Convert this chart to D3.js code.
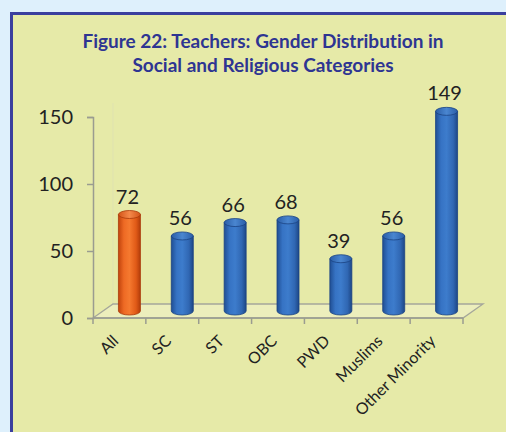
<!DOCTYPE html>
<html><head><meta charset="utf-8">
<script src="https://cdn.jsdelivr.net/npm/d3@7"></script>
<style>body{margin:0;background:#def0fc;}svg{display:block;}text{font-variant-ligatures:none;font-feature-settings:"liga" 0;}</style>
</head><body>
<svg id="c" width="506" height="432"></svg>
<script>
const categories = ["All","SC","ST","OBC","PWD","Muslims","Other Minority"];
const values = [72,56,66,68,39,56,149];
const yTicks = [0,50,100,150];
const titleLines = ["Figure 22: Teachers: Gender Distribution in","Social and Religious Categories"];

(function(){
const svg = d3.select("#c");
const FONT = "Lato, 'Open Sans', sans-serif";

// panel
svg.append("rect").attr("x",11.5).attr("y",13.5).attr("width",520).attr("height",440)
  .attr("fill","#e6eaa8").attr("stroke","#3a3f9e").attr("stroke-width",3);

// title
svg.append("text").attr("x",263).attr("y",48).attr("text-anchor","middle")
  .attr("font-family",FONT).attr("font-weight","bold").attr("font-size",19).attr("fill","#2e3592")
  .selectAll("tspan").data(titleLines).join("tspan")
  .attr("x",263).attr("dy",(d,i)=>i?24:0).text(d=>d);

const x = d3.scaleBand().domain(categories).range([93,463]).padding(0);
const y = d3.scaleLinear().domain([0,150]).range([318,117]);
const DX = 20, DY = -14; // floor depth

// back wall faint
svg.append("line").attr("x1",93+DX).attr("x2",93+DX).attr("y1",318+DY).attr("y2",117+DY)
  .attr("stroke","#dfe2b0").attr("stroke-width",1);

// floor
const fl = [[93,318],[463,318],[463+DX,318+DY],[93+DX,318+DY]];
svg.append("polygon").attr("points",fl.map(p=>p.join(",")).join(" "))
  .attr("fill","#eceebc").attr("stroke","#a5a79a").attr("stroke-width",1.3);

// y axis
const ya = svg.append("g").attr("transform","translate(93,0)")
  .call(d3.axisLeft(y).tickValues(yTicks).tickSize(6).tickPadding(14).tickFormat(d3.format("d")));
ya.select(".domain").attr("stroke","#9a9c90").attr("stroke-width",1.5);
ya.selectAll(".tick line").attr("stroke","#9a9c90").attr("stroke-width",1.5);
ya.selectAll(".tick text").attr("font-family",FONT).attr("font-size",20).attr("fill","#222");

// x axis ticks at band edges
const xa = svg.append("g").attr("transform","translate(0,318)");
const edges = categories.map(c=>x(c)).concat([x.range()[1]]);
xa.selectAll("line.t").data(edges).join("line").attr("class","t")
  .attr("x1",d=>d).attr("x2",d=>d).attr("y1",0).attr("y2",6)
  .attr("stroke","#9a9c90").attr("stroke-width",1.5);
xa.append("line").attr("x1",93).attr("x2",463).attr("y1",0).attr("y2",0)
  .attr("stroke","#9a9c90").attr("stroke-width",1.5);
xa.selectAll("text").data(categories).join("text")
  .attr("transform",d=>`translate(${x(d)+x.bandwidth()/2},24) rotate(-45)`)
  .attr("text-anchor","end").attr("font-family",FONT).attr("font-size",16).attr("fill","#222")
  .text(d=>d);

// gradients
const defs = svg.append("defs");
function grad(id, stops){
  const g = defs.append("linearGradient").attr("id",id).attr("x1","0").attr("x2","1").attr("y1","0").attr("y2","0");
  stops.forEach(s=>g.append("stop").attr("offset",s[0]).attr("stop-color",s[1]));
}
grad("gb",[[0,"#204f94"],[0.25,"#3673c4"],[0.5,"#3d7ccc"],[0.8,"#3067b3"],[1,"#1d4786"]]);
grad("go",[[0,"#c2440d"],[0.25,"#ee6a24"],[0.5,"#f5792f"],[0.8,"#e05a17"],[1,"#b23c0a"]]);
grad("gbt",[[0,"#2a5ea8"],[0.5,"#4a86d0"],[1,"#2a5ea8"]]);
grad("got",[[0,"#d45418"],[0.5,"#f4894a"],[1,"#d45418"]]);

const BW = 22, RY = 4;
const bars = svg.append("g");
const data = categories.map((c,i)=>({c, v:values[i], i}));
const cx = d=>x(d.c)+x.bandwidth()/2+DX/2;
const base = 318+DY/2;
const topY = d=>y(d.v)+DY/2;
bars.selectAll("path.body").data(data).join("path").attr("class","body")
  .attr("d",d=>{
    const l=cx(d)-BW/2, r=cx(d)+BW/2, t=topY(d);
    return `M${l},${t} L${l},${base} A${BW/2},${RY} 0 0 0 ${r},${base} L${r},${t} Z`;
  })
  .attr("fill",d=>d.i===0?"url(#go)":"url(#gb)")
  .attr("stroke",d=>d.i===0?"#a93a0a":"#1a4383").attr("stroke-width",0.8);
bars.selectAll("ellipse").data(data).join("ellipse")
  .attr("cx",cx).attr("cy",topY).attr("rx",BW/2).attr("ry",RY)
  .attr("fill",d=>d.i===0?"url(#got)":"url(#gbt)")
  .attr("stroke",d=>d.i===0?"#a93a0a":"#1a4383").attr("stroke-width",0.8);

// value labels
svg.append("g").selectAll("text").data(data).join("text")
  .attr("x",d=>cx(d)-2).attr("y",d=>topY(d)-11).attr("text-anchor","middle")
  .attr("font-family",FONT).attr("font-size",20).attr("fill","#222").text(d=>d.v);
})();
</script>
</body></html>
